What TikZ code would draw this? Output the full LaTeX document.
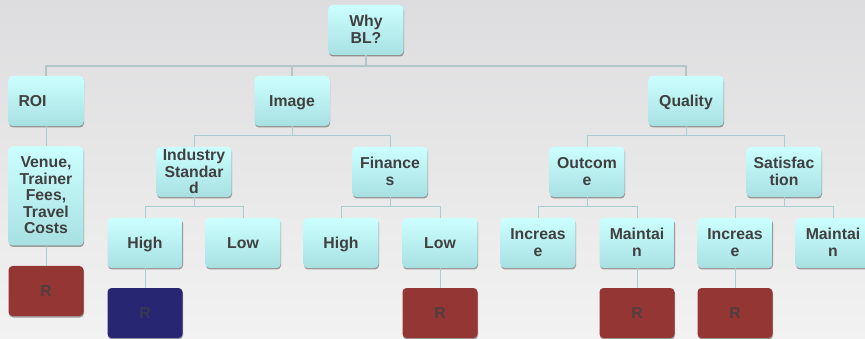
\documentclass[tikz,border=0pt]{standalone}
\usepackage{fontspec}
\setmainfont{Liberation Sans}
\usetikzlibrary{shadows}
\definecolor{cyanTop}{HTML}{CCFFFF}
\definecolor{cyanBot}{HTML}{A8E0E2}
\definecolor{redbox}{HTML}{943634}
\definecolor{navybox}{HTML}{262673}
\definecolor{txt}{HTML}{404040}
\definecolor{conn}{HTML}{A9CDD0}
\definecolor{connTop}{HTML}{B3C6CA}
\definecolor{bgTop}{HTML}{DDDDDF}
\definecolor{bgBot}{HTML}{F2F2F2}
\tikzset{
  basebox/.style={rounded corners=4pt, minimum width=75pt, minimum height=50pt,
    inner sep=1pt, align=center, font=\fontsize{15.8}{16.5}\selectfont\bfseries, text=txt,
    execute at begin node=\strut, text depth=1pt,
    drop shadow={shadow xshift=0.5pt, shadow yshift=-1.5pt, opacity=0.35, fill=black}},
  box/.style={basebox, top color=cyanTop, bottom color=cyanBot},
  redR/.style={basebox, fill=redbox, text=txt!80!redbox},
  navyR/.style={basebox, fill=navybox, text=txt!70!navybox},
  link/.style={draw=conn, line width=1pt},
  toplink/.style={draw=connTop, line width=1.5pt}
}
\begin{document}
\begin{tikzpicture}[x=1pt,y=-1pt]
\useasboundingbox (0,0) rectangle (865,339);
\clip (0,0) rectangle (865,339);
\shade[top color=bgTop, bottom color=bgBot] (0,0) rectangle (865,339);

% level 0
\node[box] (why) at (366,30) {Why\\BL?};
% level 1
\node[box] (roi) at (46,101) {\makebox[55pt][l]{ROI}};
\node[box] (image) at (292,101) {Image};
\node[box] (quality) at (686,101) {Quality};
% level 2
\node[box, minimum height=99pt] (venue) at (46,196) {Venue,\\Trainer\\Fees,\\Travel\\Costs};
\node[box] (ind) at (194,172) {Industry\\Standar\\d};
\node[box] (fin) at (390,172) {Finance\\s};
\node[box] (out) at (587,172) {Outcom\\e};
\node[box] (sat) at (784,172) {Satisfac\\tion};
% level 3
\node[box] (high1) at (145,243) {High};
\node[box] (low1) at (243,243) {Low};
\node[box] (high2) at (341,243) {High};
\node[box] (low2) at (440,243) {Low};
\node[box] (inc1) at (538,243) {Increas\\e};
\node[box] (mai1) at (637,243) {Maintai\\n};
\node[box] (inc2) at (735,243) {Increas\\e};
\node[box] (mai2) at (833,243) {Maintai\\n};
% level 4
\node[redR] (r1) at (46,291) {R};
\node[navyR] (r2) at (145,313) {R};
\node[redR] (r3) at (440,313) {R};
\node[redR] (r4) at (637,313) {R};
\node[redR] (r5) at (735,313) {R};

% connectors
\draw[toplink] (why.south) -- (why.south |- 0,66) -| (roi.north);
\draw[toplink] (why.south |- 0,66) -| (image.north);
\draw[toplink] (why.south |- 0,66) -| (quality.north);
\draw[link] (roi.south) -- (venue.north);
\draw[link] (venue.south) -- (r1.north);
\draw[link] (image.south) -- (image.south |- 0,136) -| (ind.north);
\draw[link] (image.south |- 0,136) -| (fin.north);
\draw[link] (quality.south) -- (quality.south |- 0,136) -| (out.north);
\draw[link] (quality.south |- 0,136) -| (sat.north);
\draw[link] (ind.south) -- (ind.south |- 0,207) -| (high1.north);
\draw[link] (ind.south |- 0,207) -| (low1.north);
\draw[link] (fin.south) -- (fin.south |- 0,207) -| (high2.north);
\draw[link] (fin.south |- 0,207) -| (low2.north);
\draw[link] (out.south) -- (out.south |- 0,207) -| (inc1.north);
\draw[link] (out.south |- 0,207) -| (mai1.north);
\draw[link] (sat.south) -- (sat.south |- 0,207) -| (inc2.north);
\draw[link] (sat.south |- 0,207) -| (mai2.north);
\draw[link] (high1.south) -- (r2.north);
\draw[link] (low2.south) -- (r3.north);
\draw[link] (mai1.south) -- (r4.north);
\draw[link] (inc2.south) -- (r5.north);
\end{tikzpicture}
\end{document}
